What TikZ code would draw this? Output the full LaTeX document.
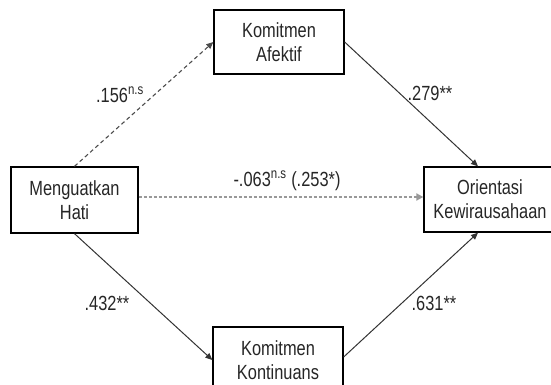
\documentclass[tikz,border=0pt]{standalone}
\usepackage{fontspec}
\setmainfont{Liberation Sans}[FakeStretch=0.8]
\usetikzlibrary{arrows.meta,calc}
\begin{document}
\begin{tikzpicture}[x=1pt,y=-1pt,
  box/.style={draw=black,line width=1.3pt,fill=white,rectangle,align=center,
    inner sep=0pt,font=\fontsize{20.5}{24}\selectfont,text=black!85},
  lbl/.style={font=\fontsize{20.5}{24}\selectfont,text=black!85,inner sep=0pt},
  tip/.style={-{Triangle[length=7pt,width=6pt]}},
  solidarrow/.style={tip,draw=black!80,line width=1pt},
  dashedarrow/.style={tip,draw=black!70,line width=1.1pt,dash pattern=on 4pt off 3pt},
  dottedarrow/.style={-{Triangle[length=7pt,width=7pt]},draw=black!40,line width=2.6pt,dash pattern=on 3pt off 2pt}]
\useasboundingbox (0,0) rectangle (551,385);
\node[box,minimum width=130pt,minimum height=64pt] (ka) at (279,42) {Komitmen\\Afektif};
\node[box,minimum width=127pt,minimum height=66pt] (mh) at (74.5,200) {Menguatkan\\Hati};
\node[box,minimum width=132pt,minimum height=65pt] (or) at (490,199.5) {Orientasi\\Kewirausahaan};
\node[box,minimum width=130pt,minimum height=66pt] (kk) at (278,360) {Komitmen\\Kontinuans};
\draw[dashedarrow] (mh.north) -- (ka.west);
\draw[solidarrow] (ka.east) -- ($(or.north)+(-12,0)$);
\draw[dottedarrow] ($(mh.east)+(0,-3)$) -- ($(or.west)+(0,-2.5)$);
\draw[solidarrow] (mh.south) -- ($(kk.west)+(0,0)$);
\draw[solidarrow] ($(kk.east)+(0,-3)$) -- ($(or.south)+(-12,0)$);
\node[lbl] (l1) at (120,95) {.156\textsuperscript{n.s}};
\node[lbl] (l2) at (430,93) {.279**};
\node[lbl] (l3) at (287,181) {-.063\textsuperscript{n.s} (.253*)};
\node[lbl] (l4) at (107,303) {.432**};
\node[lbl] (l5) at (434,303) {.631**};
\end{tikzpicture}
\end{document}
